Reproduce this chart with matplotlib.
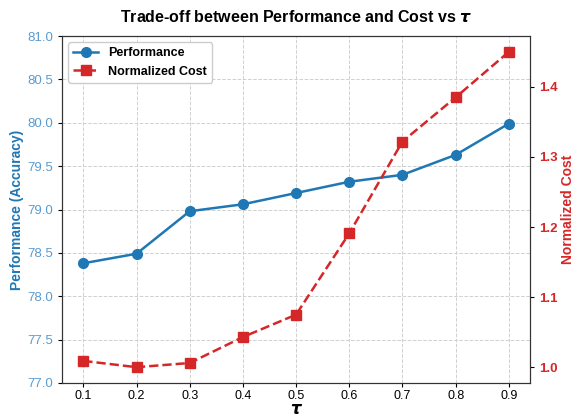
import numpy as np
import matplotlib.pyplot as plt

plt.rcParams['font.family'] = ['Liberation Sans', 'DejaVu Sans']

tau = [0.1, 0.2, 0.3, 0.4, 0.5, 0.6, 0.7, 0.8, 0.9]
performance = [78.38, 78.49, 78.98, 79.06, 79.19, 79.32, 79.40, 79.63, 79.99]
norm_cost = [1.009, 1.000, 1.006, 1.043, 1.075, 1.191, 1.322, 1.385, 1.450]

blue = '#1f77b4'
red = '#d62728'

fig, ax1 = plt.subplots(figsize=(5.8, 4.19), dpi=100)
fig.subplots_adjust(left=0.107, right=0.914, top=0.914, bottom=0.086)

l1, = ax1.plot(tau, performance, '-o', color=blue, lw=1.8, ms=7, label='Performance')
ax1.set_xlabel(r'$\boldsymbol{\tau}$', fontsize=12, labelpad=0)
ax1.set_ylabel('Performance (Accuracy)', color=blue, fontsize=10, fontweight='bold', labelpad=2)
ax1.tick_params(axis='y', labelcolor='#5a9bd0', labelsize=9.5, length=3)
ax1.tick_params(axis='x', labelsize=9, length=3, pad=2)
ax1.set_xticks(tau)
ax1.set_ylim(77.0, 81.0)
ax1.grid(True, linestyle='--', color='#d0d0d0', lw=0.7)

ax2 = ax1.twinx()
l2, = ax2.plot(tau, norm_cost, '--s', color=red, lw=1.8, ms=7, label='Normalized Cost')
ax2.set_ylabel('Normalized Cost', color=red, fontsize=10, fontweight='bold', labelpad=2)
ax2.tick_params(axis='y', labelcolor=red, labelsize=9.5, length=3)
for t in ax2.get_yticklabels():
    t.set_fontweight('bold')
ax2.set_yticks([1.0, 1.1, 1.2, 1.3, 1.4])

for ax in (ax1, ax2):
    for s in ax.spines.values():
        s.set_color('#333333')

leg = ax1.legend([l1, l2], ['Performance', 'Normalized Cost'], loc='upper left',
                 prop={'weight': 'bold', 'size': 9}, framealpha=1)

ax1.set_title(r'Trade-off between Performance and Cost vs $\boldsymbol{\tau}$',
              fontsize=11.5, fontweight='bold', pad=10)

fig.savefig('out.png')
